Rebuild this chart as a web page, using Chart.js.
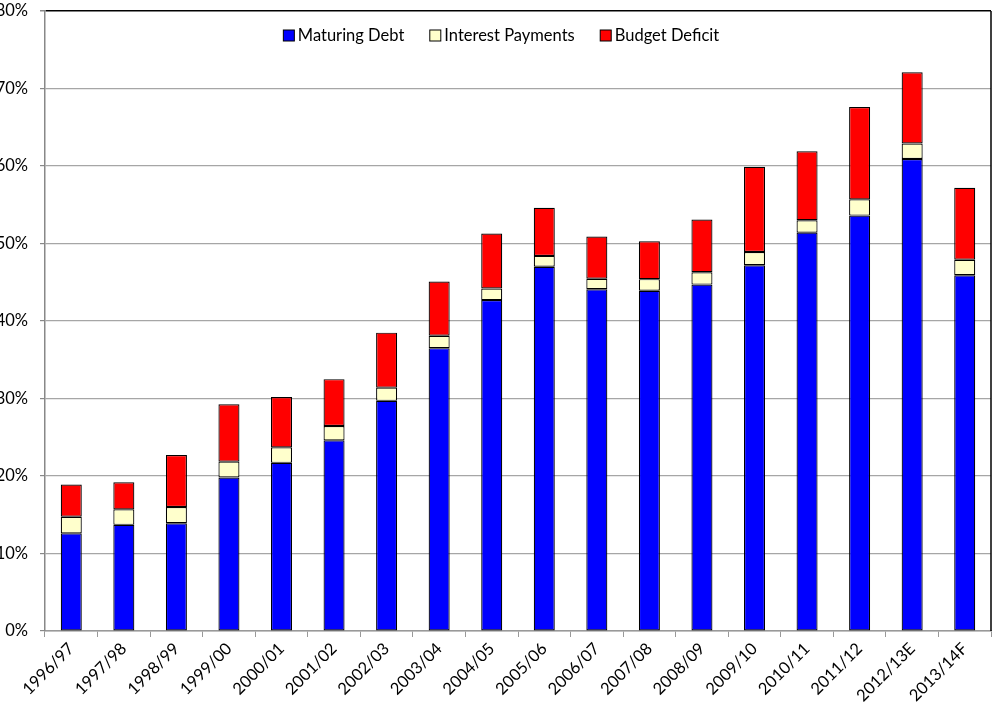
<!DOCTYPE html>
<html>
<head>
<meta charset="utf-8">
<script src="https://cdn.jsdelivr.net/npm/chart.js@4/dist/chart.umd.min.js"></script>
<style>
  html, body { margin: 0; padding: 0; background: #fff; }
  #wrap { width: 992px; height: 712px; }
</style>
</head>
<body>
<div id="wrap"><canvas id="c" width="992" height="712"></canvas></div>
<script>
// Fiscal years shown along the horizontal axis
const years = ['1996/97', '1997/98', '1998/99', '1999/00', '2000/01', '2001/02', '2002/03',
  '2003/04', '2004/05', '2005/06', '2006/07', '2007/08', '2008/09', '2009/10', '2010/11',
  '2011/12', '2012/13E', '2013/14F'];

// Stacked components, percent
const maturingDebt = [12.6, 13.7, 13.9, 19.8, 21.7, 24.6, 29.7, 36.5, 42.7, 47.0,
  44.1, 43.9, 44.7, 47.2, 51.4, 53.6, 60.9, 45.9];
const interestPayments = [2.15, 2.0, 2.1, 2.05, 2.0, 1.85, 1.7, 1.6, 1.5, 1.4,
  1.35, 1.5, 1.6, 1.7, 1.6, 2.1, 2.0, 2.0];
const budgetDeficit = [4.15, 3.5, 6.7, 7.4, 6.5, 6.05, 7.1, 7.0, 7.1, 6.2,
  5.45, 4.9, 6.8, 11.0, 8.9, 11.9, 9.2, 9.3];

// Value axis range and step
const yMin = 0, yMax = 80, yStep = 10;

const FONT = 'Lato, "Liberation Sans", sans-serif';

// Legend drawn inside the plot, centred near the top
const innerLegend = {
  id: 'innerLegend',
  afterDraw(chart) {
    const ctx = chart.ctx;
    const box = 11, gapBox = 4, gapItem = 25;
    ctx.save();
    ctx.font = '16.5px ' + FONT;
    const items = chart.data.datasets.map(ds => ({
      label: ds.label, color: ds.backgroundColor, w: ctx.measureText(ds.label).width
    }));
    const total = items.reduce((s, it) => s + box + gapBox + it.w, 0) + gapItem * (items.length - 1);
    let x = 501 - total / 2;
    const cy = 35;
    items.forEach(it => {
      ctx.fillStyle = it.color;
      ctx.fillRect(x + 0.5, cy - box / 2 + 0.5, box, box);
      ctx.strokeStyle = '#000';
      ctx.lineWidth = 1;
      ctx.strokeRect(x + 0.5, cy - box / 2 + 0.5, box, box);
      ctx.fillStyle = '#000';
      ctx.textBaseline = 'middle';
      ctx.textAlign = 'left';
      ctx.fillText(it.label, x + box + gapBox, cy + 1);
      x += box + gapBox + it.w + gapItem;
    });
    ctx.restore();
  }
};

// Black frame on the right edge of the plot
const rightFrame = {
  id: 'rightFrame',
  afterDatasetsDraw(chart) {
    const { ctx, chartArea } = chart;
    ctx.save();
    ctx.strokeStyle = '#000';
    ctx.lineWidth = 1.5;
    ctx.beginPath();
    ctx.moveTo(chartArea.right, chartArea.top);
    ctx.lineTo(chartArea.right, chartArea.bottom);
    ctx.stroke();
    ctx.restore();
  }
};

const segment = (label, data, color) => ({
  label, data,
  backgroundColor: color,
  borderColor: '#000',
  borderWidth: 1.2,
  borderSkipped: false,
  barPercentage: 0.4,
  categoryPercentage: 1.0
});

new Chart(document.getElementById('c'), {
  type: 'bar',
  data: {
    labels: years,
    datasets: [
      segment('Maturing Debt', maturingDebt, '#0000FF'),
      segment('Interest Payments', interestPayments, '#FFFFCC'),
      segment('Budget Deficit', budgetDeficit, '#FF0000')
    ]
  },
  options: {
    responsive: false,
    devicePixelRatio: 1,
    animation: false,
    layout: { padding: { top: 11, right: 1, left: 0, bottom: 0 } },
    plugins: {
      legend: { display: false },
      tooltip: { enabled: false }
    },
    scales: {
      x: {
        stacked: true,
        afterFit(scale) {
          scale.height = 81;
          scale.paddingLeft = 0; scale.paddingRight = 0;
        },
        grid: {
          offset: true,
          drawOnChartArea: false,
          drawTicks: true,
          tickLength: 6,
          color: '#999999',
          lineWidth: 1
        },
        border: { color: '#999999', width: 1.5 },
        ticks: {
          color: '#000',
          font: { family: FONT, size: 16.5 },
          minRotation: 45,
          maxRotation: 45,
          autoSkip: false,
          padding: 2
        }
      },
      y: {
        stacked: true,
        min: yMin,
        max: yMax,
        afterFit(scale) {
          scale.width = 45;
          scale.paddingTop = 0; scale.paddingBottom = 0;
        },
        grid: {
          color: ctx => (ctx.tick && ctx.tick.value === yMax) ? '#000' : '#a6a6a6',
          lineWidth: ctx => (ctx.tick && ctx.tick.value === yMax) ? 1.5 : 1.2,
          tickColor: '#888888',
          tickLength: 5,
          drawTicks: true
        },
        border: { color: '#888888', width: 1.5 },
        ticks: {
          stepSize: yStep,
          color: '#000',
          padding: 12,
          font: { family: FONT, size: 16.5 },
          callback: v => v + '%'
        }
      }
    }
  },
  plugins: [innerLegend, rightFrame]
});
</script>
</body>
</html>
